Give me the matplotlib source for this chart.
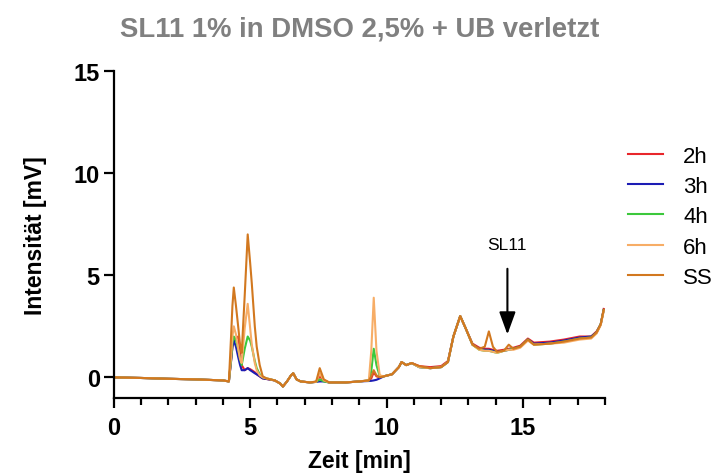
import numpy as np
import matplotlib.pyplot as plt

plt.rcParams['font.family'] = ['Liberation Sans', 'DejaVu Sans']

#%% Data

t = [0, 1, 2, 3, 4, 4.22, 4.3, 4.35, 4.4, 4.48, 4.56, 4.63, 4.69, 4.8, 4.91, 5.0, 5.06,
     5.17, 5.24, 5.35, 5.46, 5.6, 5.9, 6.1, 6.2, 6.35, 6.5, 6.58, 6.7, 6.85, 7.2,
     7.42, 7.55, 7.7, 7.9, 8.5, 9.0, 9.35, 9.44, 9.53, 9.63, 9.75, 9.9, 10.2,
     10.45, 10.55, 10.72, 10.92, 11.2, 11.6, 12.0, 12.25, 12.45, 12.7, 12.9, 13.15,
     13.4, 13.6, 13.75, 13.9, 14.05, 14.3, 14.48, 14.65, 14.9, 15.18, 15.4, 15.98,
     16.5, 17.08, 17.5, 17.7, 17.85, 17.96]

h2 = [0.0, -0.03, -0.07, -0.1, -0.15, -0.2, 0.8, 1.5, 1.8, 1.9, 2.0, 1.3, 0.6, 0.35, 0.45, 0.4, 0.35,
      0.25, 0.15, 0.05, -0.05, -0.08, -0.15, -0.3, -0.45, -0.2, 0.1, 0.2, -0.1, -0.2, -0.25,
      -0.22, 0.05, -0.15, -0.25, -0.25, -0.2, -0.15, -0.05, 0.25, 0.05, 0.0, 0.05, 0.15,
      0.5, 0.75, 0.6, 0.7, 0.55, 0.5, 0.55, 0.8, 2.0, 3.0, 2.4, 1.65,
      1.45, 1.4, 1.4, 1.35, 1.3, 1.35, 1.4, 1.45, 1.55, 1.9, 1.7, 1.75,
      1.85, 2.0, 2.0, 2.25, 2.6, 3.35]

h3 = [0.0, -0.03, -0.07, -0.1, -0.15, -0.2, 0.8, 1.5, 1.8, 1.5, 1.0, 0.6, 0.35, 0.35, 0.45, 0.35, 0.3,
      0.2, 0.15, 0.05, -0.05, -0.08, -0.15, -0.3, -0.45, -0.2, 0.1, 0.2, -0.1, -0.2, -0.25,
      -0.22, -0.2, -0.2, -0.25, -0.25, -0.2, -0.18, -0.17, -0.15, -0.12, -0.05, 0.05, 0.15,
      0.5, 0.75, 0.6, 0.7, 0.5, 0.45, 0.5, 0.75, 2.0, 3.0, 2.4, 1.6,
      1.4, 1.35, 1.35, 1.3, 1.25, 1.3, 1.35, 1.4, 1.5, 1.85, 1.65, 1.7,
      1.8, 1.95, 2.0, 2.2, 2.6, 3.3]

h4 = [0.0, -0.03, -0.07, -0.1, -0.15, -0.2, 0.9, 1.7, 2.0, 1.8, 1.4, 0.9, 0.6, 1.4, 2.0, 1.8, 1.5,
      0.8, 0.45, 0.15, 0.0, -0.05, -0.15, -0.3, -0.45, -0.2, 0.1, 0.2, -0.1, -0.2, -0.25,
      -0.22, -0.1, -0.2, -0.25, -0.25, -0.2, -0.15, 0.3, 1.4, 0.6, 0.05, 0.05, 0.15,
      0.5, 0.75, 0.6, 0.7, 0.5, 0.45, 0.5, 0.75, 2.0, 3.0, 2.4, 1.6,
      1.35, 1.3, 1.3, 1.25, 1.2, 1.3, 1.35, 1.4, 1.5, 1.85, 1.6, 1.65,
      1.75, 1.9, 1.95, 2.2, 2.6, 3.3]

h6 = [0.0, -0.03, -0.07, -0.1, -0.15, -0.2, 1.0, 2.0, 2.5, 2.1, 1.4, 0.9, 0.7, 2.4, 3.6, 2.4, 1.6,
      0.7, 0.35, 0.1, 0.0, -0.05, -0.15, -0.3, -0.45, -0.2, 0.1, 0.2, -0.1, -0.2, -0.25,
      -0.22, 0.2, -0.15, -0.25, -0.25, -0.2, -0.15, 1.3, 3.9, 1.3, 0.1, 0.05, 0.15,
      0.5, 0.75, 0.6, 0.7, 0.5, 0.45, 0.5, 0.75, 2.0, 3.0, 2.4, 1.6,
      1.35, 1.3, 1.3, 1.25, 1.2, 1.3, 1.35, 1.35, 1.45, 1.8, 1.6, 1.65,
      1.7, 1.85, 1.9, 2.15, 2.55, 3.25]

ss = [0.0, -0.03, -0.07, -0.1, -0.15, -0.2, 2.0, 3.5, 4.4, 3.5, 2.5, 1.6, 1.2, 4.0, 7.0, 5.6, 4.6,
      2.5, 1.5, 0.6, 0.05, -0.05, -0.15, -0.3, -0.45, -0.2, 0.1, 0.2, -0.1, -0.2, -0.25,
      -0.2, 0.45, -0.1, -0.25, -0.25, -0.2, -0.15, 0.05, 0.35, 0.1, 0.0, 0.05, 0.15,
      0.5, 0.75, 0.6, 0.7, 0.55, 0.45, 0.5, 0.75, 2.0, 3.0, 2.4, 1.6,
      1.4, 1.5, 2.25, 1.5, 1.25, 1.3, 1.6, 1.4, 1.5, 1.85, 1.6, 1.65,
      1.75, 1.9, 1.95, 2.2, 2.6, 3.3]

labels = ['2h', '3h', '4h', '6h', 'SS']
colors = ['#e8262b', '#1c1cb4', '#3cc83c', '#f7ad66', '#d2781f']

#%% Plot

fig = plt.figure(figsize=(7.2, 4.77), dpi=100)
ax = fig.add_axes([0.158, 0.164, 0.682, 0.685])

for vals, lab, col in zip([h2, h3, h4, h6, ss], labels, colors):
    ax.plot(t, vals, color=col, lw=1.5, label=lab)

ax.set_xlim(0, 18)
ax.set_ylim(-1, 15)
ax.set_xticks([0, 5, 10, 15])
ax.set_xticks(np.arange(0, 19, 1), minor=True)
ax.set_yticks([0, 5, 10, 15])

for s in ['top', 'right']:
    ax.spines[s].set_visible(False)
for s in ['left', 'bottom']:
    ax.spines[s].set_linewidth(1.6)

ax.tick_params(axis='both', which='major', length=7, width=1.6, labelsize=17)
ax.tick_params(axis='x', which='major', pad=6)
ax.tick_params(axis='y', which='major', pad=3)
ax.tick_params(axis='x', which='minor', length=5, width=1.6)
for lbl in ax.get_xticklabels() + ax.get_yticklabels():
    lbl.set_fontweight('bold')

ax.set_xlabel('Zeit [min]', fontsize=16.5, fontweight='bold', labelpad=7)
ax.set_ylabel('Intensität [mV]', fontsize=16.5, fontweight='bold', labelpad=19)
fig.suptitle('SL11 1% in DMSO 2,5% + UB verletzt', fontsize=19.8, fontweight='bold',
             color='#808080', x=0.5, y=0.965)

# SL11 marker
ax.annotate('SL11', xy=(14.43, 2.1), xytext=(14.43, 6.5), ha='center', va='center',
            fontsize=12.5,
            arrowprops=dict(arrowstyle='-|>,head_width=0.4,head_length=1.1',
                            color='black', lw=1.5, shrinkA=10, shrinkB=0))

ax.legend(loc='upper left', bbox_to_anchor=(0.8444, 0.7346), bbox_transform=fig.transFigure,
          frameon=False, fontsize=16, handlelength=1.58, handletextpad=0.9,
          labelspacing=0.42)

plt.savefig('out.png', dpi=100)
